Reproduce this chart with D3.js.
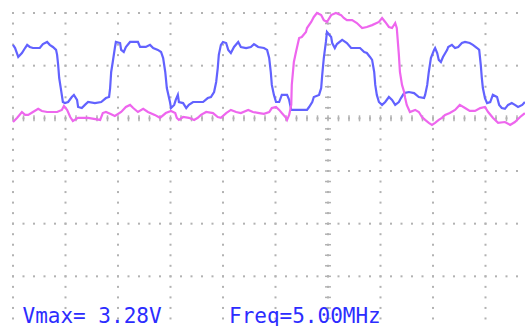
<!DOCTYPE html>
<html>
<head>
<meta charset="utf-8">
<script src="https://cdn.jsdelivr.net/npm/d3@7"></script>
<style>
  html, body { margin: 0; padding: 0; background: #fff; }
  svg { display: block; }
</style>
</head>
<body>
<svg id="scope" width="525" height="326"></svg>
<script>
// Channel 1 (blue) capture: sample time in ns, level in volts
const ch1Time = [0,4,10,17,23,27,32,38,51,57,65,70,76,82,84,86,88,91,95,99,105,112,116,122,124,131,137,143,156,168,177,183,185,187,190,194,196,204,206,211,215,223,238,242,253,261,267,276,282,286,290,293,299,301,307,310,314,316,324,330,335,343,362,371,377,383,387,390,392,396,400,406,410,415,421,429,434,444,453,459,467,478,484,488,491,493,497,501,507,512,522,526,530,560,564,570,573,583,587,589,592,596,598,606,608,613,617,627,636,644,661,669,674,680,684,688,690,693,697,703,709,716,722,728,735,739,745,754,764,773,783,785,789,792,796,802,804,808,811,815,819,827,829,836,842,848,855,861,870,876,884,888,891,893,895,899,903,909,914,922,926,931,937,943,950,956,962,970,975];
const ch1Volts = [2.79,2.67,2.33,2.48,2.67,2.79,2.71,2.67,2.67,2.82,2.90,2.79,2.71,2.60,2.41,2.03,1.53,1.15,0.62,0.58,0.62,0.81,0.89,0.70,0.43,0.39,0.51,0.62,0.58,0.62,0.77,0.81,1.15,1.76,2.14,2.67,2.90,2.86,2.60,2.52,2.71,2.90,2.90,2.71,2.71,2.79,2.67,2.60,2.52,2.29,1.76,1.15,0.62,0.39,0.51,0.70,0.89,0.62,0.58,0.39,0.51,0.62,0.62,0.77,0.81,1.00,1.38,1.91,2.41,2.79,2.90,2.86,2.60,2.48,2.71,2.90,2.71,2.67,2.71,2.82,2.71,2.67,2.60,2.29,1.76,1.27,0.89,0.62,0.62,0.89,0.89,0.70,0.32,0.32,0.43,0.62,0.81,0.89,1.15,1.65,2.29,2.90,3.28,3.09,2.86,2.67,2.82,2.98,2.86,2.67,2.67,2.52,2.48,2.33,2.22,1.76,1.27,0.89,0.62,0.51,0.62,0.81,0.70,0.51,0.62,0.77,0.96,1.00,0.96,0.81,0.77,0.89,1.27,1.76,2.29,2.60,2.67,2.48,2.22,2.14,2.33,2.60,2.71,2.79,2.67,2.71,2.86,2.90,2.86,2.79,2.67,2.60,2.03,1.53,1.15,0.77,0.58,0.62,0.89,0.81,0.51,0.39,0.36,0.51,0.58,0.51,0.43,0.51,0.62];

// Channel 2 (magenta) capture
const ch2Time = [0,8,17,23,29,38,48,55,65,84,93,97,103,109,114,124,143,166,171,177,185,194,206,215,223,229,238,248,257,270,280,291,301,309,312,316,324,335,345,352,358,368,381,390,396,406,415,425,434,448,457,469,478,488,493,501,507,512,520,522,526,530,531,535,539,545,550,558,560,568,573,579,587,592,598,606,615,625,630,636,646,655,665,674,684,697,703,709,716,722,728,731,735,737,741,745,747,750,756,766,773,779,785,792,798,804,811,817,823,832,842,851,861,870,880,890,899,905,914,924,937,947,956,966,975];
const ch2Volts = [-0.14,0.02,0.24,0.13,0.13,0.24,0.36,0.28,0.24,0.24,0.32,0.47,0.32,0.05,-0.10,0.02,0.02,-0.06,0.20,0.24,0.17,0.09,0.24,0.43,0.51,0.39,0.24,0.36,0.24,0.13,0.02,0.20,0.28,0.20,0.02,-0.06,0.05,0.02,-0.06,0.02,0.13,0.24,0.20,0.05,0.02,0.20,0.32,0.24,0.20,0.32,0.24,0.20,0.17,0.24,0.39,0.43,0.32,0.20,0.02,-0.06,0.13,0.51,1.27,2.14,2.52,3.05,3.09,3.28,3.43,3.66,3.85,4.00,3.92,3.73,3.66,3.92,4.00,3.92,3.81,3.73,3.73,3.62,3.43,3.47,3.54,3.66,3.81,3.66,3.47,3.43,3.62,3.43,2.41,1.76,1.27,1.00,0.77,0.51,0.24,0.32,0.24,0.05,-0.06,-0.17,-0.25,-0.17,-0.06,0.02,0.13,0.20,0.32,0.51,0.39,0.28,0.28,0.39,0.43,0.24,0.02,-0.17,-0.14,-0.25,-0.14,0.05,0.20];

// Screen graticule: major divisions (100 ns/div, 2 V/div) and the centre axes
const majorTimes = [0, 100, 200, 300, 400, 500, 600, 700, 800, 900];
const majorVolts = [4, 2, 0, -2, -4, -6];
const centerTime = 600;
const centerVolt = 0;
const minorTimeStep = 20;
const minorVoltStep = 0.4;
const freqMHz = 5.00;

const svg = d3.select("#scope");
const W = 525, H = 326;

const x = d3.scaleLinear().domain([0, 1000]).range([13, 538]);
const y = d3.scaleLinear().domain([-8, 4]).range([329, 13]);

const gridColor = "#b2b2b2";
const grid = svg.append("g");

// dotted vertical lines
const vDots = [];
majorTimes.forEach(t => {
  d3.range(-8, 4.001, minorVoltStep).forEach(v => vDots.push([t, v]));
});
// dotted horizontal lines
const hDots = [];
majorVolts.forEach(v => {
  d3.range(0, 1000.001, minorTimeStep).forEach(t => hDots.push([t, v]));
});
grid.selectAll("rect.dot")
  .data(vDots.concat(hDots).filter(d => x(d[0]) < W && y(d[1]) < H))
  .join("rect")
  .attr("class", "dot")
  .attr("x", d => x(d[0]) - 1)
  .attr("y", d => y(d[1]) - 1)
  .attr("width", 2)
  .attr("height", 2)
  .attr("fill", gridColor);

// tick marks along the centre horizontal axis
grid.selectAll("line.htick")
  .data(d3.range(0, 1000.001, minorTimeStep).filter(t => x(t) < W))
  .join("line")
  .attr("class", "htick")
  .attr("x1", d => x(d)).attr("x2", d => x(d))
  .attr("y1", y(centerVolt) - 3).attr("y2", y(centerVolt) + 3)
  .attr("stroke", gridColor).attr("stroke-width", 1.5);

// tick marks along the centre vertical axis
grid.selectAll("line.vtick")
  .data(d3.range(-8, 4.001, minorVoltStep).filter(v => y(v) < H))
  .join("line")
  .attr("class", "vtick")
  .attr("x1", x(centerTime) - 3).attr("x2", x(centerTime) + 3)
  .attr("y1", d => y(d)).attr("y2", d => y(d))
  .attr("stroke", gridColor).attr("stroke-width", 1.5);

// traces
const line = d3.line()
  .x(d => x(d[0]))
  .y(d => y(d[1]))
  .curve(d3.curveLinear);

const ch1 = ch1Time.map((t, i) => [t, ch1Volts[i]]);
const ch2 = ch2Time.map((t, i) => [t, ch2Volts[i]]);

svg.append("path")
  .datum(ch1)
  .attr("d", line)
  .attr("fill", "none")
  .attr("stroke", "#6262ff")
  .attr("stroke-width", 2.2)
  .attr("stroke-linejoin", "miter");

svg.append("path")
  .datum(ch2)
  .attr("d", line)
  .attr("fill", "none")
  .attr("stroke", "#ee66ee")
  .attr("stroke-width", 2.2)
  .attr("stroke-linejoin", "miter");

// measurement readouts
const vmax = d3.max(ch1Volts);
const readout = svg.append("g")
  .attr("font-family", "'DejaVu Sans Mono', monospace")
  .attr("font-size", 21)
  .attr("fill", "#2c2cff");
readout.append("text")
  .attr("x", 22.5).attr("y", 322.5)
  .text("Vmax= " + vmax.toFixed(2) + "V");
readout.append("text")
  .attr("x", 229).attr("y", 322.5)
  .text("Freq=" + freqMHz.toFixed(2) + "MHz");
</script>
</body>
</html>
